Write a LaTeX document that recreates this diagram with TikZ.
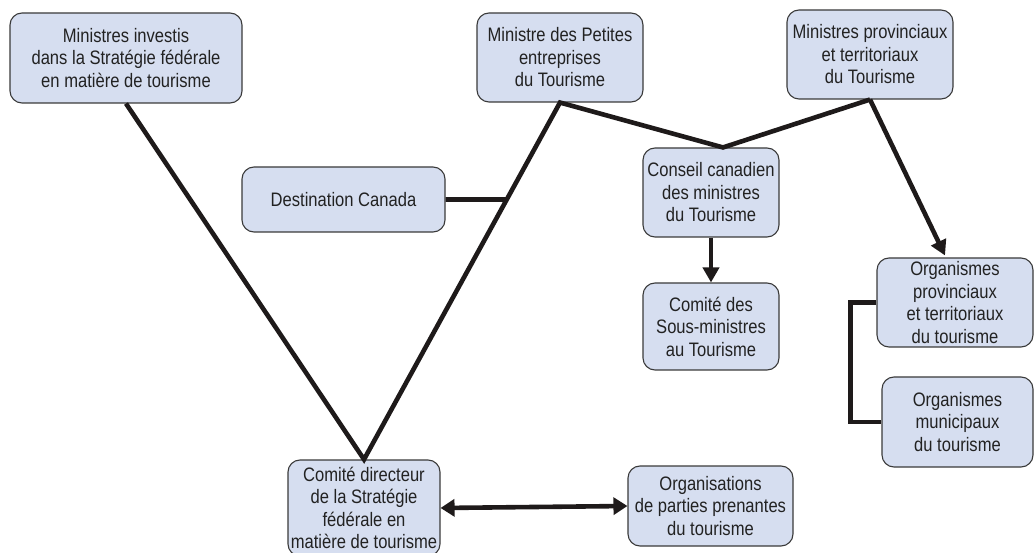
\documentclass[tikz,border=0pt]{standalone}
\usepackage{fontspec}
\setmainfont{Liberation Sans}[FakeStretch=0.85]
\usetikzlibrary{arrows.meta,calc}
\definecolor{boxfill}{HTML}{D6DEF0}
\definecolor{boxline}{HTML}{3A3A3A}
\definecolor{ink}{HTML}{222222}
\definecolor{wire}{HTML}{1E1A1A}
\begin{document}
\begin{tikzpicture}[x=1pt,y=-1pt,
  orgbox/.style={draw=boxline,fill=boxfill,line width=1.1pt,rounded corners=12pt,
    align=center,inner sep=0pt,text=ink,font=\fontsize{19.5}{22.5}\selectfont},
  wire/.style={draw=wire,line width=4.6pt},
  tip/.style={-{Triangle[length=15pt,width=16pt]}},
  dtip/.style={{Triangle[length=14pt,width=17pt]}-{Triangle[length=14pt,width=17pt]}}]
\useasboundingbox (0,0) rectangle (1034,553);

% Boxes
\node[orgbox,minimum width=232pt,minimum height=90pt] (b1) at (126,58)
  {Ministres investis\\dans la Stratégie fédérale\\en matière de tourisme};
\node[orgbox,minimum width=166pt,minimum height=89pt] (b2) at (560,57.5)
  {Ministre des Petites\\entreprises\\du Tourisme};
\node[orgbox,minimum width=166pt,minimum height=89pt] (b3) at (870,54.5)
  {Ministres provinciaux\\et territoriaux\\du Tourisme};
\node[orgbox,minimum width=203pt,minimum height=65pt] (dc) at (343.5,199.5)
  {Destination Canada};
\node[orgbox,minimum width=136pt,minimum height=89pt] (cc) at (711,192.5)
  {Conseil canadien\\des ministres\\du Tourisme};
\node[orgbox,minimum width=136pt,minimum height=87pt] (cs) at (711,326.5)
  {Comité des\\Sous-ministres\\au Tourisme};
\node[orgbox,minimum width=156pt,minimum height=89pt] (op) at (955,302.5)
  {Organismes\\provinciaux\\et territoriaux\\du tourisme};
\node[orgbox,minimum width=151pt,minimum height=90pt] (om) at (957.5,422)
  {Organismes\\municipaux\\du tourisme};
\node[orgbox,minimum width=152pt,minimum height=96pt] (cd) at (364,508)
  {Comité directeur\\de la Stratégie\\fédérale en\\matière de tourisme};
\node[orgbox,minimum width=165pt,minimum height=80pt] (or) at (710.5,506)
  {Organisations\\de parties prenantes\\du tourisme};

% Junction points
\coordinate (ccin) at ($(cc.north)+(12,0)$);
\coordinate (opin) at ($(op.north)+(-10,-2)$);
\coordinate (dcx) at ($(dc.east)+(100,0)$);
\coordinate (dcj) at (intersection of b2.south--cd.north and dc.east--dcx);

% Connectors
\draw[wire,line join=miter] (b1.south) -- (cd.north) -- (b2.south) -- (ccin) -- (b3.south);
\draw[wire] (dc.east) -- (dcj);
\draw[wire,tip] (b3.south) -- (opin);
\draw[wire,tip] (cc.south) -- (cs.north);
\draw[wire] (op.west) -- ++(-26,0) |- (om.west);
\draw[wire,dtip] (cd.east) -- (or.west);
\end{tikzpicture}
\end{document}
